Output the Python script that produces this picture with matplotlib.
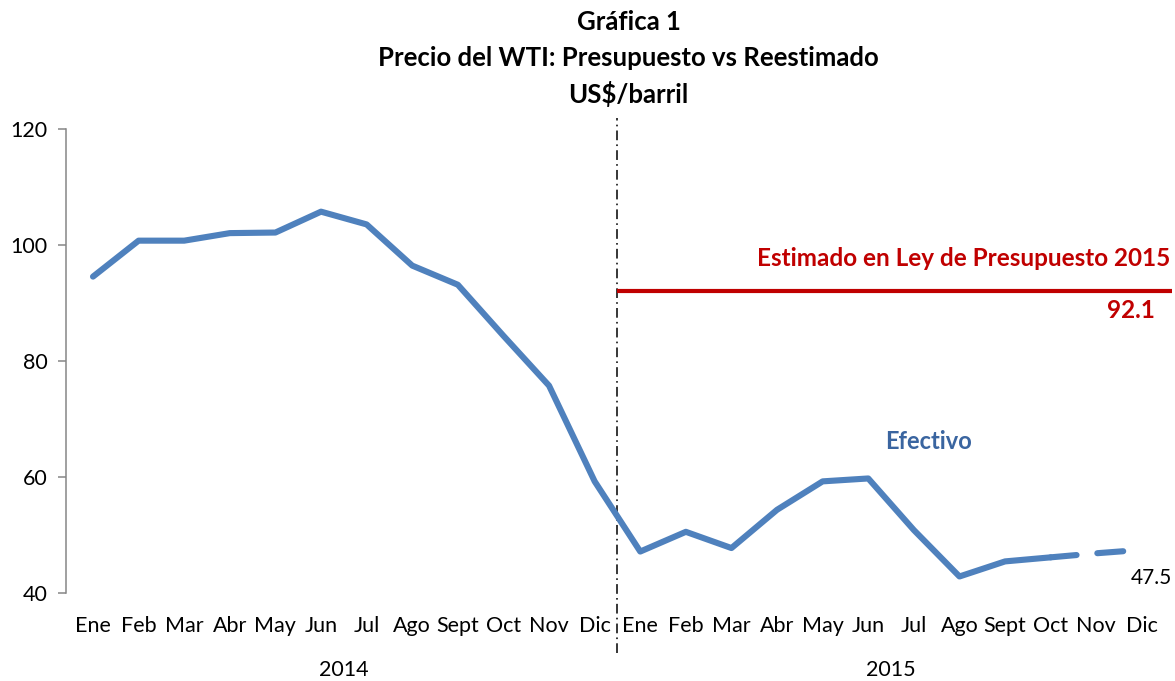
import matplotlib
matplotlib.use('Agg')
import matplotlib.pyplot as plt
import matplotlib.transforms as mtransforms
import numpy as np

plt.rcParams['font.family'] = ['Lato', 'DejaVu Sans']
plt.rcParams['lines.scale_dashes'] = False

# ---------------- data ----------------
months = ["Ene", "Feb", "Mar", "Abr", "May", "Jun", "Jul", "Ago", "Sept", "Oct", "Nov", "Dic"]
years = ["2014", "2015"]
efectivo = [94.6, 100.8, 100.8, 102.1, 102.2, 105.8, 103.6, 96.5, 93.2, 84.4, 75.8, 59.3,
            47.2, 50.6, 47.8, 54.4, 59.3, 59.8, 50.9, 42.9, 45.5, 46.2]
proyectado = [46.2, 46.9, 47.5]   # Oct-Dic 2015 (estimado)
presupuesto = 92.1
yticks = [40, 60, 80, 100, 120]

# ---------------- styles ----------------
BLUE = "#4F81BD"
BLUE_TXT = "#3A65A0"
RED = "#C00000"
GRAY = "#868686"

month_labels = months * len(years)
n = len(month_labels)
x_all = np.arange(n)
x_eff = x_all[:len(efectivo)]
x_proj = x_all[n - len(proyectado):]

fig = plt.figure(figsize=(11.75, 6.81), dpi=100)
ax = fig.add_axes([66 / 1175, 1 - 593.3 / 681, (1172 - 66) / 1175, (593.3 - 129.3) / 681])
ax.set_xlim(-0.592, 23.66)
ax.set_ylim(40, 120)

# main line
ax.plot(x_eff, efectivo, color=BLUE, lw=4.4, solid_joinstyle='round', solid_capstyle='round', zorder=3)
ax.plot(x_proj, proyectado, color=BLUE, lw=4.4, linestyle=(0, (18.7, 15)),
        dash_capstyle='round', zorder=3)

# divider between years
div_x = len(months) - 0.5
ax.axvline(div_x, ymin=-0.129, ymax=1.024, color='black', lw=1.1,
           linestyle=(0, (7, 3, 1.2, 3)), clip_on=False, zorder=2)

# budget line
ax.hlines(presupuesto, div_x, ax.get_xlim()[1], color=RED, lw=3, zorder=3)

# texts
ax.text(23.62, 97.8, "Estimado en Ley de Presupuesto 2015", color=RED, fontsize=17.5,
        fontweight='bold', ha='right', va='center')
ax.text(23.29, 88.8, f"{presupuesto:.1f}", color=RED, fontsize=17.5, fontweight='bold',
        ha='right', va='center')
ax.text(18.31, 66.1, "Efectivo", color=BLUE_TXT, fontsize=17, fontweight='bold',
        ha='center', va='center')
ax.text(23.2, 42.6, f"{proyectado[-1]:.1f}", color='black', fontsize=15,
        ha='center', va='center')

# axes styling
for s in ['top', 'right', 'bottom']:
    ax.spines[s].set_visible(False)
ax.spines['left'].set_color(GRAY)
ax.spines['left'].set_linewidth(1.1)
ax.set_yticks(yticks)
ax.tick_params(axis='y', length=5.5, width=1.1, color=GRAY, pad=8, labelsize=15.5)
ax.set_xticks(x_all)
ax.set_xticklabels(month_labels)
ax.tick_params(axis='x', length=0, pad=16, labelsize=15.5)

trans = mtransforms.blended_transform_factory(ax.transData, ax.transAxes)
for i, y in enumerate(years):
    ax.text(i * len(months) + (len(months) - 1) / 2, -0.165, y, transform=trans,
            ha='center', va='center', fontsize=15.5)

# title
fig.text(0.535, 1 - 22 / 681, "Gráfica 1", ha='center', va='center', fontsize=18.5, fontweight='bold')
fig.text(0.535, 1 - 58 / 681, "Precio del WTI: Presupuesto vs Reestimado", ha='center', va='center',
         fontsize=18.5, fontweight='bold')
fig.text(0.535, 1 - 94 / 681, "US$/barril", ha='center', va='center', fontsize=18.5, fontweight='bold')

fig.savefig("out.png", dpi=100)
